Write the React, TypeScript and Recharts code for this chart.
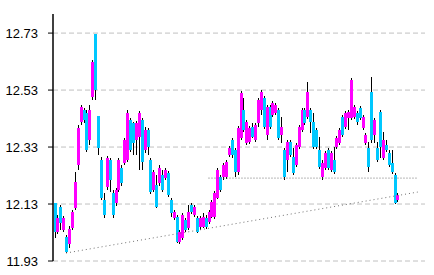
import React from "react";
import { Bar, CartesianGrid, ComposedChart, ReferenceLine, XAxis, YAxis } from "recharts";

// OHLC, one entry per session
const opens = [
  12.134, 12.032, 12.119, 12.039, 12.014, 11.99, 12.046, 12.116, 12.267, 12.418,
  12.46, 12.449, 12.355, 12.505, 12.726, 12.439, 12.284, 12.144, 12.19, 12.284,
  12.169, 12.134, 12.179, 12.256, 12.274, 12.284, 12.425, 12.414, 12.355, 12.365,
  12.425, 12.319, 12.39, 12.284, 12.179, 12.197, 12.204, 12.232, 12.221, 12.239,
  12.144, 12.081, 12.084, 11.997, 12.011, 12.074, 12.046, 12.126, 12.091, 12.081,
  12.049, 12.049, 12.081, 12.067, 12.084, 12.084, 12.151, 12.225, 12.225, 12.225,
  12.302, 12.355, 12.319, 12.242, 12.362, 12.46, 12.344, 12.348, 12.4, 12.355,
  12.414, 12.46, 12.502, 12.372, 12.47, 12.442, 12.449, 12.46, 12.372, 12.319,
  12.284, 12.348, 12.295, 12.267, 12.33, 12.39, 12.46, 12.435, 12.46, 12.418,
  12.39, 12.319, 12.225, 12.256, 12.319, 12.249, 12.284, 12.33, 12.344, 12.435,
  12.4, 12.432, 12.432, 12.435, 12.449, 12.467, 12.397, 12.344, 12.326, 12.523,
  12.372, 12.326, 12.453, 12.291, 12.337, 12.309, 12.274, 12.232, 12.144,
];
const highs = [
  12.134, 12.091, 12.126, 12.088, 12.021, 12.053, 12.109, 12.242, 12.407, 12.477,
  12.467, 12.46, 12.477, 12.635, 12.726, 12.439, 12.295, 12.169, 12.298, 12.291,
  12.179, 12.186, 12.291, 12.267, 12.362, 12.46, 12.432, 12.418, 12.421, 12.456,
  12.432, 12.4, 12.397, 12.291, 12.249, 12.232, 12.267, 12.249, 12.256, 12.246,
  12.151, 12.109, 12.091, 12.039, 12.098, 12.081, 12.126, 12.134, 12.126, 12.088,
  12.088, 12.098, 12.091, 12.109, 12.144, 12.176, 12.256, 12.232, 12.274, 12.284,
  12.334, 12.362, 12.326, 12.404, 12.526, 12.502, 12.425, 12.404, 12.414, 12.414,
  12.502, 12.53, 12.509, 12.477, 12.477, 12.491, 12.484, 12.467, 12.435, 12.326,
  12.355, 12.355, 12.326, 12.344, 12.407, 12.467, 12.467, 12.558, 12.467, 12.449,
  12.397, 12.365, 12.284, 12.316, 12.326, 12.316, 12.33, 12.369, 12.397, 12.442,
  12.456, 12.46, 12.572, 12.477, 12.456, 12.474, 12.442, 12.379, 12.348, 12.576,
  12.432, 12.348, 12.46, 12.383, 12.355, 12.319, 12.319, 12.239, 12.169,
];
const lows = [
  12.011, 12.025, 12.039, 12.032, 11.958, 11.976, 12.039, 12.109, 12.249, 12.407,
  12.414, 12.312, 12.337, 12.495, 12.495, 12.302, 12.144, 12.081, 12.179, 12.172,
  12.081, 12.123, 12.172, 12.193, 12.267, 12.277, 12.312, 12.302, 12.302, 12.249,
  12.249, 12.309, 12.302, 12.165, 12.172, 12.116, 12.193, 12.172, 12.214, 12.155,
  12.084, 12.074, 11.993, 11.99, 12.004, 12.032, 12.039, 12.095, 12.084, 12.028,
  12.039, 12.046, 12.042, 12.06, 12.081, 12.077, 12.148, 12.172, 12.214, 12.218,
  12.295, 12.291, 12.225, 12.232, 12.355, 12.383, 12.337, 12.341, 12.362, 12.348,
  12.4, 12.442, 12.393, 12.355, 12.393, 12.435, 12.442, 12.355, 12.344, 12.214,
  12.242, 12.295, 12.232, 12.26, 12.323, 12.383, 12.407, 12.428, 12.379, 12.323,
  12.323, 12.253, 12.214, 12.249, 12.249, 12.242, 12.235, 12.323, 12.337, 12.365,
  12.393, 12.39, 12.425, 12.428, 12.407, 12.425, 12.39, 12.337, 12.242, 12.344,
  12.344, 12.277, 12.291, 12.284, 12.312, 12.26, 12.235, 12.13, 12.137,
];
const closes = [
  12.032, 12.081, 12.063, 12.081, 11.962, 12.042, 12.102, 12.207, 12.397, 12.47,
  12.425, 12.319, 12.46, 12.628, 12.53, 12.326, 12.151, 12.091, 12.291, 12.214,
  12.091, 12.179, 12.284, 12.204, 12.355, 12.449, 12.319, 12.344, 12.414, 12.449,
  12.277, 12.39, 12.33, 12.172, 12.242, 12.119, 12.256, 12.179, 12.249, 12.162,
  12.098, 12.102, 11.997, 12.032, 12.091, 12.039, 12.102, 12.102, 12.119, 12.032,
  12.081, 12.084, 12.049, 12.102, 12.137, 12.169, 12.249, 12.179, 12.267, 12.277,
  12.326, 12.302, 12.242, 12.397, 12.519, 12.39, 12.418, 12.397, 12.365, 12.407,
  12.495, 12.523, 12.4, 12.47, 12.4, 12.484, 12.477, 12.362, 12.4, 12.225,
  12.348, 12.302, 12.239, 12.337, 12.4, 12.46, 12.414, 12.523, 12.418, 12.33,
  12.33, 12.26, 12.274, 12.309, 12.256, 12.309, 12.242, 12.362, 12.39, 12.372,
  12.449, 12.453, 12.565, 12.47, 12.418, 12.432, 12.435, 12.372, 12.26, 12.355,
  12.425, 12.284, 12.33, 12.355, 12.319, 12.267, 12.242, 12.134, 12.162,
];

const slotCount = 128;
const yTicks = [11.93, 12.13, 12.33, 12.53, 12.73];
const yDomain = [11.93, 12.797];

const supportLevel = 12.221;
const supportSlots = [53, 125];
const trendSlots = [4, 125];
const trendValues = [11.958, 12.172];

const upColor = "#ff00ff";
const downColor = "#00c8ff";

const data = Array.from({ length: slotCount }, (_, i) =>
  i < opens.length
    ? { i, range: [lows[i], highs[i]], o: opens[i], h: highs[i], l: lows[i], c: closes[i] }
    : { i }
);

function Candle(props: any) {
  const { x, y, width, height, payload } = props;
  if (!payload || payload.o == null) return null;
  const { o, h, l, c } = payload;
  const top = height >= 0 ? y : y + height;
  const len = Math.abs(height);
  const span = h - l || 1;
  const toY = (v: number) => top + ((h - v) / span) * len;
  const cx = Math.round(x + width / 2);
  const bTop = Math.min(toY(o), toY(c));
  const bBot = Math.max(toY(o), toY(c));
  return (
    <g shapeRendering="crispEdges">
      <line x1={cx + 0.5} x2={cx + 0.5} y1={top} y2={top + len} stroke="#000" strokeWidth={1} />
      <rect
        x={cx - 1}
        y={Math.round(bTop)}
        width={3}
        height={Math.max(Math.round(bBot - bTop), 2)}
        fill={c >= o ? upColor : downColor}
      />
    </g>
  );
}

export default function App() {
  return (
    <div style={{ position: "absolute", left: 0, top: 0, background: "#fff" }}>
      <ComposedChart
        width={434}
        height={275}
        data={data}
        margin={{ top: 14, right: 9, bottom: 14, left: 0 }}
        barCategoryGap={0}
      >
        <CartesianGrid
          horizontal
          vertical={false}
          horizontalValues={yTicks}
          stroke="#c0c0c0"
          strokeDasharray="5 3"
        />
        <XAxis dataKey="i" type="category" hide />
        <YAxis
          width={53}
          domain={yDomain}
          ticks={yTicks}
          allowDataOverflow
          tickSize={5}
          tickMargin={10}
          axisLine={{ stroke: "#000", strokeWidth: 1.5 }}
          tickLine={{ stroke: "#000" }}
          tick={{ fill: "#000", fontSize: 13, fontFamily: "'Liberation Sans Narrow', 'Arial Narrow', sans-serif" }}
          tickFormatter={(v: number) => v.toFixed(2)}
        />
        <ReferenceLine
          segment={[
            { x: supportSlots[0], y: supportLevel },
            { x: supportSlots[1], y: supportLevel },
          ]}
          stroke="#707070"
          strokeDasharray="1 2"
        />
        <ReferenceLine
          segment={[
            { x: trendSlots[0], y: trendValues[0] },
            { x: trendSlots[1], y: trendValues[1] },
          ]}
          stroke="#707070"
          strokeDasharray="1 3"
        />
        <Bar dataKey="range" shape={<Candle />} isAnimationActive={false} />
      </ComposedChart>
    </div>
  );
}
